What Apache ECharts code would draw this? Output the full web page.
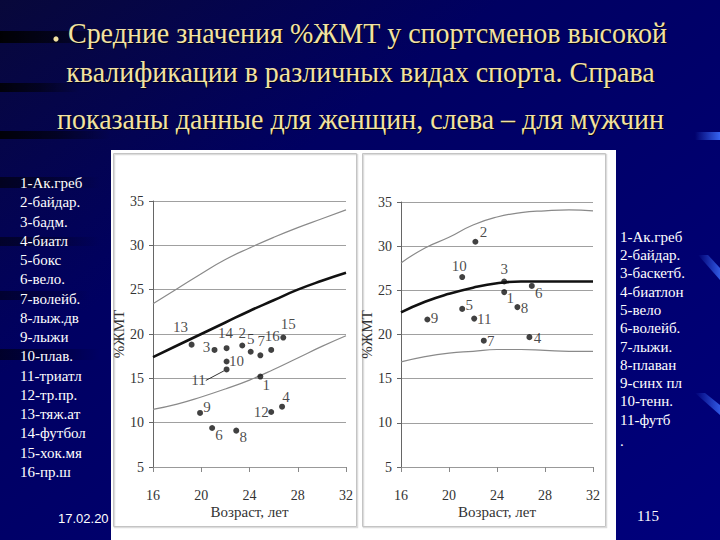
<!DOCTYPE html>
<html><head><meta charset="utf-8">
<script src="https://cdn.jsdelivr.net/npm/echarts/dist/echarts.min.js"></script>
<style>html,body{margin:0;padding:0;background:#000068;}#c{width:720px;height:540px;}</style>
</head><body><div id="c"></div>
<script>
// ---------- data ----------
const titleLines = [
  'Средние значения %ЖМТ у спортсменов высокой',
  'квалификации в различных видах спорта. Справа',
  'показаны данные для женщин, слева – для мужчин'
];
const curveAges = [16, 18, 20, 22, 24, 26, 28, 30, 32];
// men (left chart)
const menUpper = [23.4, 25.1, 26.8, 28.4, 29.7, 30.9, 32.0, 33.0, 34.0];
const menMid   = [17.4, 18.7, 20.0, 21.3, 22.6, 23.8, 25.0, 26.0, 26.9];
const menLower = [11.5, 12.1, 12.9, 13.8, 14.8, 16.0, 17.3, 18.6, 19.8];
const menAge = [24.9, 23.4, 21.1, 26.7, 24.1, 20.9, 24.9, 22.9, 19.9, 22.1, 22.1, 25.8, 19.2, 22.1, 26.8, 25.8];
const menFat = [15.2, 18.7, 18.2, 11.8, 18.0, 9.4, 17.6, 9.1, 11.1, 16.9, 16.0, 11.2, 18.8, 18.4, 19.6, 18.2];
const menSports = ['Ак.греб','байдар.','бадм.','биатл','бокс','вело.','волейб.','лыж.дв','лыжи','плав.','триатл','тр.пр.','тяж.ат','футбол','хок.мя','пр.ш'];
// women (right chart)
const womenUpper = [28.1, 29.8, 31.0, 32.4, 33.3, 33.8, 34.0, 34.1, 34.0];
const womenMid   = [22.5, 23.7, 24.6, 25.3, 25.8, 26.0, 26.0, 26.0, 26.0];
const womenLower = [16.9, 17.5, 17.9, 18.1, 18.3, 18.3, 18.2, 18.1, 18.1];
const womenAge = [24.6, 22.2, 24.6, 26.7, 21.1, 26.9, 22.9, 25.7, 18.2, 21.1, 22.1];
const womenFat = [24.8, 30.5, 26.0, 19.7, 22.9, 25.5, 19.3, 23.1, 21.7, 26.5, 21.8];
const womenSports = ['Ак.греб','байдар.','баскетб.','биатлон','вело','волейб.','лыжи.','плаван','синх пл','тенн.','футб'];
const dateText = '17.02.20';
const pageText = '115';

// ---------- styles ----------
const SERIF = 'Liberation Serif, Tinos, Times New Roman, DejaVu Serif, serif';
const menLabelOffset = [[6,8],[0,-13],[-8,-3],[4,-10],[0,-13],[7,7],[1,-14],[7,6],[7,-6],[10,0],[-28,11],[-10,0],[-11,-18],[-1,-15],[5,-14],[1,-14]];
const womenLabelOffset = [[6,6],[8,-10],[0,-13],[8,1],[7,-4],[7,7],[7,0],[7,1],[7,-1],[-3,-11],[10,0]];

const chart = echarts.init(document.getElementById('c'), null, {renderer: 'svg', width: 720, height: 540});

function measure(text, size) {
  const ctx = document.createElement('canvas').getContext('2d');
  ctx.font = size + 'px ' + SERIF;
  return ctx.measureText(text).width;
}

function curve(vals, idx, thick) {
  return {
    type: 'line', xAxisIndex: idx, yAxisIndex: idx, smooth: true, symbol: 'none', silent: true, z: 3,
    data: curveAges.map((a, i) => [a, vals[i]]),
    lineStyle: {color: thick ? '#111' : '#8a8a8a', width: thick ? 2.6 : 1.2}
  };
}
function points(ages, fats, offsets, idx, leaderIdx) {
  return {
    type: 'scatter', xAxisIndex: idx, yAxisIndex: idx, symbolSize: 6, z: 5,
    itemStyle: {color: '#111'},
    label: {show: true, position: 'inside', formatter: p => p.name, fontFamily: SERIF, fontSize: 15, color: '#1a1a1a'},
    labelLayout: function (p) { const o = offsets[p.dataIndex]; return {dx: o[0], dy: o[1]}; },
    data: ages.map((a, i) => {
      const d = {name: String(i + 1), value: [a, fats[i]]};
      if (i === leaderIdx) d.labelLine = {show: true, lineStyle: {color: '#333', width: 1}};
      return d;
    })
  };
}
function xAxis(idx) {
  return {
    type: 'value', gridIndex: idx, min: 16, max: 32, interval: 4,
    axisLine: {show: true, lineStyle: {color: '#999'}},
    axisTick: {show: true, length: 5, lineStyle: {color: '#888'}},
    splitLine: {show: false},
    axisLabel: {margin: 21, fontFamily: SERIF, fontSize: 14, color: '#333'},
    name: 'Возраст, лет', nameLocation: 'middle', nameGap: 37,
    nameTextStyle: {fontFamily: SERIF, fontSize: 15, color: '#333'}
  };
}
function yAxis(idx) {
  return {
    type: 'value', gridIndex: idx, min: 5, max: 35, interval: 5,
    axisLine: {show: true, lineStyle: {color: '#666'}},
    axisTick: {show: true, length: 4, lineStyle: {color: '#666'}},
    splitLine: {show: true, lineStyle: {color: '#a0a0a0', width: 1}},
    axisLabel: {margin: 9, fontFamily: SERIF, fontSize: 14, color: '#333'},
    name: '%ЖМТ', nameLocation: 'middle', nameGap: 22,
    nameTextStyle: {fontFamily: SERIF, fontSize: 15, color: '#333'}
  };
}

// ---------- decorations ----------
const LG = echarts.graphic.LinearGradient;
const g = [];
g.push({type: 'rect', z: -200, silent: true, shape: {x: 0, y: 0, width: 720, height: 540},
  style: {fill: new LG(0, 0, 1, 1, [{offset: 0, color: '#08083a'}, {offset: 0.35, color: '#000062'}, {offset: 1, color: '#00007c'}])}});
function streak(x, y, w, h, op) {
  g.push({type: 'rect', z: -150, silent: true, shape: {x, y, width: w, height: h},
    style: {fill: new LG(0, 0, 1, 0, [{offset: 0, color: 'rgba(0,0,0,' + op + ')'}, {offset: 0.5, color: 'rgba(0,0,0,' + (op * 0.6) + ')'}, {offset: 1, color: 'rgba(0,0,0,0)'}])}});
}
streak(0, 31, 110, 12, 0.95);
streak(0, 83, 80, 9, 0.85);
streak(0, 131, 110, 8, 0.9);
streak(0, 177, 100, 11, 0.6);
streak(0, 237, 100, 9, 0.5);
streak(0, 291, 90, 9, 0.45);
streak(0, 349, 100, 11, 0.55);
function blueStreak(pts, op) {
  g.push({type: 'polygon', z: -150, silent: true, shape: {points: pts},
    style: {fill: new LG(0, 0, 1, 0, [{offset: 0, color: 'rgba(60,110,255,0)'}, {offset: 1, color: 'rgba(60,110,255,' + op + ')'}])}});
}
blueStreak([[695, 132], [720, 132], [720, 140], [695, 140]], 0.9);
blueStreak([[698, 255], [708, 255], [720, 268], [720, 280]], 0.8);
blueStreak([[695, 393], [705, 393], [720, 405], [720, 415]], 0.8);
// white panel and frames
g.push({type: 'rect', z: -100, silent: true, shape: {x: 111, y: 150, width: 505, height: 390}, style: {fill: '#ffffff'}});
[[113.5, 153.5], [362.5, 153.5]].forEach(([x, y]) => {
  g.push({type: 'rect', z: -99, silent: true, shape: {x: x + 1, y: y + 1, width: 243, height: 373}, style: {fill: 'none', stroke: '#dcdcdc', lineWidth: 1.5}});
  g.push({type: 'rect', z: -98, silent: true, shape: {x, y, width: 243, height: 373}, style: {fill: 'none', stroke: '#c4c4c4', lineWidth: 1}});
});
// title (dark copy underneath acts as shadow)
const titleSize = 30;
const titleSpans = [[68, 667, 33], [66, 655, 72], [57, 664, 119]];
titleLines.forEach((t, i) => {
  const [x0, x1, yc] = titleSpans[i];
  const w = measure(t, titleSize);
  [['#000018', 1, 49], ['#f2e2a2', 0, 50]].forEach(([col, off, z]) => {
    g.push({type: 'text', z, silent: true, x: (x0 + x1) / 2 + off, y: yc + off, scaleX: (x1 - x0) / w, scaleY: 1,
      style: {text: t, fontSize: titleSize, fontFamily: SERIF, fill: col, align: 'center', verticalAlign: 'middle'}});
  });
});
g.push({type: 'circle', z: 50, silent: true, shape: {cx: 56, cy: 39, r: 2.6}, style: {fill: '#f2e2a2'}});
// legends
menSports.forEach((s, i) => {
  g.push({type: 'text', z: 50, silent: true, x: 20, y: 183 + i * 19.25,
    style: {text: (i + 1) + '-' + s, fontSize: 15, fontFamily: SERIF, fill: '#ffffff', verticalAlign: 'middle'}});
});
womenSports.concat(['.']).forEach((s, i) => {
  g.push({type: 'text', z: 50, silent: true, x: 620, y: 236.7 + i * 18.3 + (s === '.' ? 3 : 0),
    style: {text: s === '.' ? '.' : (i + 1) + '-' + s, fontSize: 15, fontFamily: SERIF, fill: '#ffffff', verticalAlign: 'middle'}});
});
g.push({type: 'text', z: 50, silent: true, x: 58, y: 518, style: {text: dateText, fontSize: 13, fontFamily: 'Liberation Sans, Arial, sans-serif', fill: '#ffffff', verticalAlign: 'middle'}});
g.push({type: 'text', z: 50, silent: true, x: 637, y: 516, style: {text: pageText, fontSize: 15, fontFamily: SERIF, fill: '#ffffff', verticalAlign: 'middle'}});

chart.setOption({
  animation: false,
  backgroundColor: 'transparent',
  graphic: {elements: g},
  grid: [
    {left: 153, top: 201, width: 193, height: 266},
    {left: 401, top: 202, width: 192, height: 265}
  ],
  xAxis: [xAxis(0), xAxis(1)],
  yAxis: [yAxis(0), yAxis(1)],
  series: [
    curve(menUpper, 0, false), curve(menMid, 0, true), curve(menLower, 0, false),
    points(menAge, menFat, menLabelOffset, 0, 10),
    curve(womenUpper, 1, false), curve(womenMid, 1, true), curve(womenLower, 1, false),
    points(womenAge, womenFat, womenLabelOffset, 1, -1)
  ]
});
</script>
</body></html>
